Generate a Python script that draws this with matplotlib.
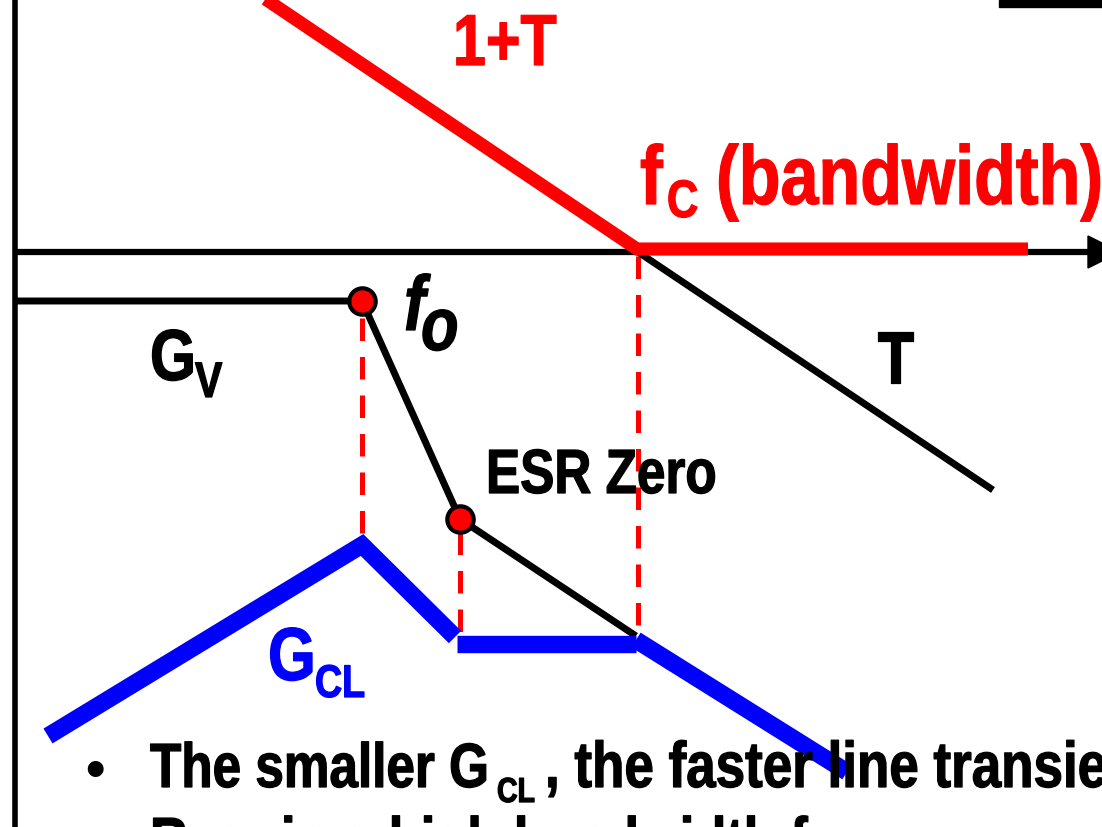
import matplotlib
matplotlib.use("Agg")
import matplotlib.pyplot as plt
from matplotlib.patches import Polygon, Rectangle
from matplotlib.patheffects import AbstractPathEffect
from matplotlib.transforms import Affine2D

# Asymptotic Bode sketch of loop gain, plant and closed-loop gain.
# Horizontal axis: frequency (log scale, sketch units); vertical: gain (sketch units, down = lower gain).

# Frequency axis level and its extent
axis_level = 252
axis_x = [14, 1090]

# Plant G_V: flat, double-pole roll-off at f_o, then ESR zero slope
gv_freq = [15, 362, 460, 636]
gv_gain = [301, 301, 519, 636]

# Loop gain T above crossover
t_freq = [638, 993]
t_gain = [252, 490]

# 1+T: falls to unity at f_C, then stays at 0 dB
opt_freq = [252, 637, 1028]
opt_gain = [-10, 249, 249]

# Closed-loop gain G_CL (three separate asymptotic pieces)
gcl_rise_freq = [48, 362, 455]
gcl_rise_gain = [736, 545, 637]
gcl_flat_freq = [457, 636]
gcl_flat_gain = [644, 644]
gcl_fall_freq = [636, 847]
gcl_fall_gain = [640, 772]

# Corner points f_o and ESR zero
corner_freq = [362, 460]
corner_gain = [301, 519]

# Vertical markers: (frequency, top, bottom)
guide_freq = [362, 460, 638]
guide_top = [318, 532, 256]
guide_bottom = [540, 636, 634]

FONT = "Liberation Sans"
NARROW = 0.82


class Narrow(AbstractPathEffect):
    """Draw glyph outlines compressed horizontally about the text anchor,
    with a thin outline in the fill colour to give a heavier weight."""

    def __init__(self, x0, factor=NARROW, weight=0.9):
        super().__init__()
        self._x0 = x0
        self._factor = factor
        self._weight = weight

    def draw_path(self, renderer, gc, tpath, affine, rgbFace=None):
        squeeze = (Affine2D().translate(-self._x0, 0)
                   .scale(self._factor, 1).translate(self._x0, 0))
        gc0 = renderer.new_gc()
        gc0.copy_properties(gc)
        gc0.set_linewidth(self._weight)
        gc0.set_joinstyle("round")
        if rgbFace is not None:
            gc0.set_foreground(rgbFace)
        renderer.draw_path(gc0, tpath, affine + squeeze, rgbFace)
        gc0.restore()


fig = plt.figure(figsize=(11.02, 8.27), dpi=100)
ax = fig.add_axes([0, 0, 1, 1])
ax.set_xlim(0, 1102)
ax.set_ylim(827, 0)
ax.axis("off")


def label(x, y, s, color, size, style="normal"):
    x0 = ax.transData.transform((x, y))[0]
    return ax.text(x, y, s, color=color, fontsize=size, family=FONT,
                   weight="bold", style=style, ha="left", va="baseline",
                   zorder=7, path_effects=[Narrow(x0)])


# Axes of the sketch
ax.plot([14.5, 14.5], [0, 827], color="black", lw=4.0, solid_capstyle="butt", zorder=2)
ax.plot(axis_x, [axis_level, axis_level], color="black", lw=4.5, solid_capstyle="butt", zorder=2)
ax.add_patch(Polygon([[1088, 236], [1088, 268], [1120, 252]], closed=True,
                     color="black", zorder=2))
ax.add_patch(Rectangle((999, 0), 103, 7, color="black", zorder=2))

# Guides
for fx, top, bot in zip(guide_freq, guide_top, guide_bottom):
    ax.plot([fx, fx], [top, bot], color="red", lw=3.6, dashes=(4.5, 3.2),
            solid_capstyle="butt", dash_capstyle="butt", zorder=1)

# Plant and loop gain
ax.plot(gv_freq, gv_gain, color="black", lw=5.0, solid_joinstyle="round",
        solid_capstyle="butt", zorder=3)
ax.plot(t_freq, t_gain, color="black", lw=5.0, solid_capstyle="butt", zorder=3)

# 1+T
ax.plot(opt_freq, opt_gain, color="red", lw=9.4, solid_capstyle="butt",
        solid_joinstyle="miter", zorder=4)

# Closed-loop gain
for xs, ys in [(gcl_rise_freq, gcl_rise_gain), (gcl_flat_freq, gcl_flat_gain),
               (gcl_fall_freq, gcl_fall_gain)]:
    ax.plot(xs, ys, color="#0000ff", lw=12.5, solid_capstyle="butt",
            solid_joinstyle="miter", zorder=4)

# Corner markers
ax.plot(corner_freq, corner_gain, "o", ms=19, mfc="red", mec="black", mew=3, zorder=6)

# Labels
label(453, 65, "1+T", "red", 52)
label(640, 204, "f", "red", 60)
label(667, 217, "C", "red", 38)
label(716, 204, "(bandwidth)", "red", 60)

label(404, 330, "f", "black", 56, style="italic")
label(421, 350, "o", "black", 54, style="italic")

label(150, 380, "G", "black", 52)
label(195, 397, "V", "black", 36)
label(877, 383, "T", "black", 53)
label(486, 493, "ESR Zero", "black", 45)

label(268, 680, "G", "#0000ff", 54)
label(315, 697, "CL", "#0000ff", 33)

# Bullet points
ax.text(85, 787, "\u2022", color="black", fontsize=40, family=FONT,
        weight="bold", ha="left", va="baseline", zorder=7)
label(150, 787, "The smaller G", "black", 45)
label(497, 802, "CL", "black", 25)
label(545, 787, ", the faster line transient response", "black", 46.5)
label(150, 862, "Requires high bandwidth f", "black", 46)

fig.savefig("out.png", dpi=100)
